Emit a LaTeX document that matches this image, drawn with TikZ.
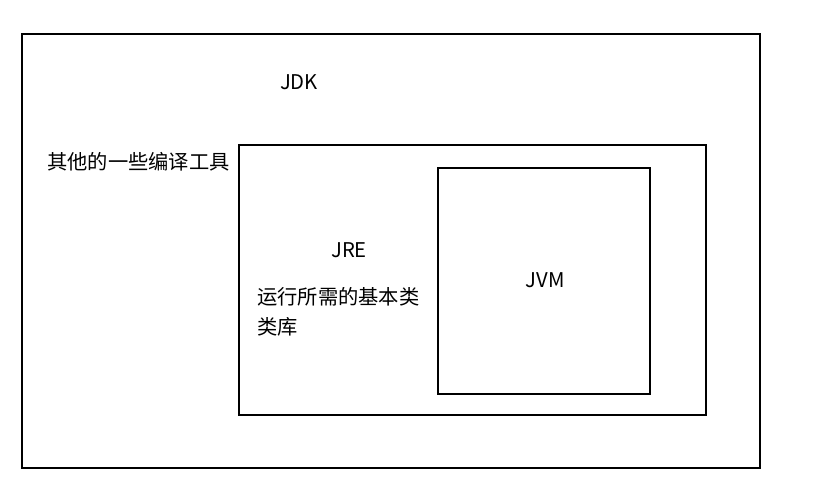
\documentclass[tikz,border=0pt]{standalone}
\usepackage{fontspec}
\setmainfont{Noto Sans CJK SC}
\usepackage{tikz}

\begin{document}
\begin{tikzpicture}[x=0.03cm,y=-0.03cm]
\tikzset{box/.style={draw=black,line width=0.9pt}}
\tikzstyle{label} =[inner sep=0pt,font=\fontsize{17.3}{25.6}\selectfont]

\useasboundingbox (0,0) rectangle (819,498);
% boxes
\draw[box] (22,34) rectangle (760,468);
\draw[box] (239,145) rectangle (706,415);
\draw[box] (438,168) rectangle (650,394);

\node[label](jdk) at (299,82){JDK};
\node[label,anchor=west](tools) at (47,162){其他的一些编译工具};
\node[label](jre) at (349,250){JRE};
\node[label,anchor=west,align=left](lib) at (257,312){运行所需的基本类\\类库};
\node[label](jvm) at (545,280){JVM};
\end{tikzpicture}
\end{document}
